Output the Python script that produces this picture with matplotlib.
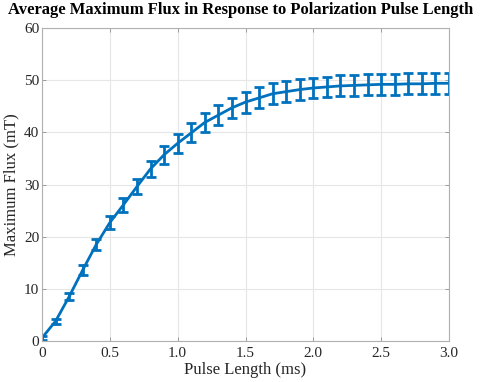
import numpy as np
import matplotlib
matplotlib.use('Agg')
import matplotlib.pyplot as plt

plt.rcParams['font.family'] = ['Liberation Serif', 'DejaVu Serif']

# pulse length (ms) and mean maximum flux (mT) with error bars
pulse_len = [0.0, 0.1, 0.2, 0.3, 0.4, 0.5, 0.6, 0.7, 0.8, 0.9, 1.0,
             1.1, 1.2, 1.3, 1.4, 1.5, 1.6, 1.7, 1.8, 1.9, 2.0,
             2.1, 2.2, 2.3, 2.4, 2.5, 2.6, 2.7, 2.8, 2.9, 3.0]
flux = [0.6, 3.8, 8.5, 13.6, 18.5, 22.7, 26.1, 29.6, 33.0, 35.7, 37.9,
        39.9, 41.9, 43.3, 44.7, 45.8, 46.6, 47.4, 47.8, 48.2, 48.5,
        48.7, 48.9, 49.0, 49.1, 49.2, 49.2, 49.3, 49.3, 49.4, 49.4]
flux_err = [0.4, 0.5, 0.7, 0.9, 1.1, 1.3, 1.4, 1.5, 1.6, 1.7, 1.8,
            1.8, 1.9, 1.9, 1.9, 2.0, 2.0, 2.0, 2.0, 2.0, 2.0,
            2.0, 2.0, 2.0, 2.0, 2.0, 2.0, 2.0, 2.0, 2.0, 2.0]

x_ticks = [0, 0.5, 1.0, 1.5, 2.0, 2.5, 3.0]
x_ticklabels = ['0', '0.5', '1.0', '1.5', '2.0', '2.5', '3.0']
y_ticks = [0, 10, 20, 30, 40, 50, 60]

blue = '#0072BD'

fig = plt.figure(figsize=(4.81, 3.82), dpi=100)
ax = fig.add_axes([0.0873, 0.1073, 0.8462, 0.8194])

ax.errorbar(pulse_len, flux, yerr=flux_err, color=blue, linewidth=2,
            elinewidth=2, capsize=3.5, capthick=2)

ax.set_xlim(0, 3.0)
ax.set_ylim(0, 60)
ax.set_xticks(x_ticks)
ax.set_xticklabels(x_ticklabels)
ax.set_yticks(y_ticks)
ax.grid(True, color='#e6e6e6', linewidth=0.8)
ax.set_axisbelow(True)
for s in ax.spines.values():
    s.set_color('#b0b0b0')
    s.set_linewidth(0.8)
ax.tick_params(direction='in', top=True, right=True, length=3, width=0.6,
               color='#909090', labelsize=11, labelcolor='#262626', pad=2)
ax.tick_params(axis='x', pad=4)

ax.set_xlabel('Pulse Length (ms)', fontsize=12, color='#262626', labelpad=2)
ax.set_ylabel('Maximum Flux (mT)', fontsize=12, color='#262626', labelpad=3)
fig.suptitle('Average Maximum Flux in Response to Polarization Pulse Length',
             fontsize=12, fontweight='bold', x=0.5, y=0.995, va='top')

fig.savefig('out.png', dpi=100)
